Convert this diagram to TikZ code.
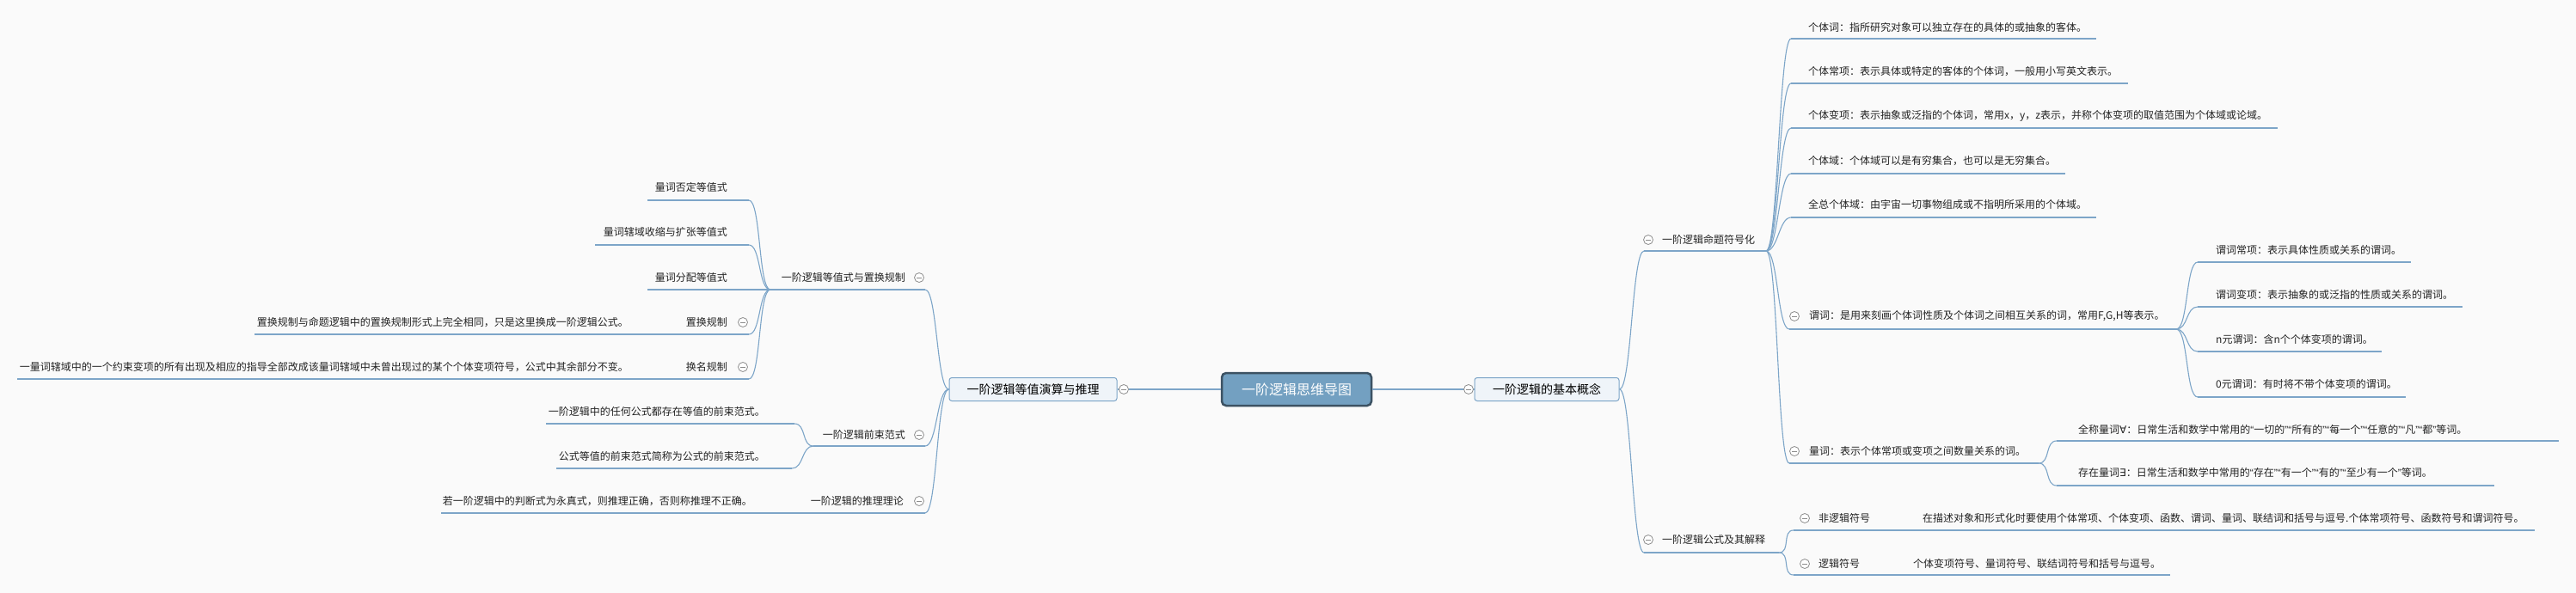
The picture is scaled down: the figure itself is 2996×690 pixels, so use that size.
\documentclass[tikz,border=0pt]{standalone}
\usepackage{fontspec}
\setmainfont{Noto Sans CJK SC}
\newfontfamily\latf{Liberation Sans}
\newfontfamily\symf{DejaVu Sans}
\newcommand\oq{{\latf “}}
\newcommand\cq{{\latf ”}}
\definecolor{bgc}{RGB}{250,250,250}
\definecolor{lnc}{RGB}{125,165,200}
\definecolor{txtc}{RGB}{35,35,35}
\definecolor{foldc}{RGB}{140,140,140}
\definecolor{rootfill}{RGB}{115,160,193}
\definecolor{rootdraw}{RGB}{60,82,99}
\definecolor{lonefill}{RGB}{239,244,249}
\newcommand\lnkR[2]{\draw[conn] (#1) .. controls +(14,0) and +(-14,0) .. (#2);}
\newcommand\lnkL[2]{\draw[conn] (#1) .. controls +(-14,0) and +(14,0) .. (#2);}
% name, ulLeft, textX, ulRight, textY, ulY, text
\newcommand\tR[7]{\node[tw] (#1) at (#3,#5) {#7};\coordinate (#1L) at (#2,#6);\coordinate (#1R) at (#4,#6);\draw[conn] (#1L) -- (#1R);}
\newcommand\tL[7]{\node[te] (#1) at (#3,#5) {#7};\coordinate (#1L) at (#2,#6);\coordinate (#1R) at (#4,#6);\draw[conn] (#1L) -- (#1R);}
\begin{document}
\begin{tikzpicture}[x=1pt,y=-1pt,
  conn/.style={draw=lnc,line width=1.1pt},
  txt/.style={inner sep=0pt,font=\fontsize{12}{14}\selectfont,text=txtc},
  tw/.style={txt,anchor=west},
  te/.style={txt,anchor=east},
  fold/.style={circle,draw=foldc,fill=white,line width=0.8pt,minimum size=11pt,inner sep=0pt,
    path picture={\draw[foldc,line width=0.8pt] ([xshift=-3pt]path picture bounding box.center) -- ([xshift=3pt]path picture bounding box.center);}},
  rootbox/.style={rounded corners=5pt,fill=rootfill,draw=rootdraw,line width=2.5pt,minimum width=174pt,minimum height=38pt,text=white,font=\fontsize{16}{18}\selectfont,inner sep=0pt},
  lone/.style={rounded corners=3pt,fill=lonefill,draw=lnc,line width=1pt,minimum height=27pt,font=\fontsize{14}{16}\selectfont,text=black,inner sep=0pt}
]
\useasboundingbox (0,0) rectangle (2996,690);
\fill[bgc] (0,0) rectangle (2996,690);

% root and level 1
\node[rootbox] (root) at (1508,453) {一阶逻辑思维导图};
\node[lone,minimum width=168pt] (r1) at (1799,453) {一阶逻辑的基本概念};
\node[lone,minimum width=195pt] (l1) at (1201.5,453) {一阶逻辑等值演算与推理};
\coordinate (r1fc) at (1708,453);
\coordinate (l1fc) at (1307,453);
\draw[conn] (root.east) -- (r1fc) -- (r1.west);
\draw[conn] (root.west) -- (l1fc) -- (l1.east);

% ---------- right side ----------
\tR{A}{1912}{1933}{2054}{279}{292}{一阶逻辑命题符号化}
\tR{B}{1912}{1933}{2069}{628}{643}{一阶逻辑公式及其解释}
\lnkR{r1.east}{AL}
\lnkR{r1.east}{BL}

\tR{a1}{2083}{2103}{2438}{32}{45}{个体词：指所研究对象可以独立存在的具体的或抽象的客体。}
\tR{a2}{2083}{2103}{2475}{83}{97}{个体常项：表示具体或特定的客体的个体词，一般用小写英文表示。}
\tR{a3}{2083}{2103}{2649}{135}{149}{个体变项：表示抽象或泛指的个体词，常用x，y，z表示，并称个体变项的取值范围为个体域或论域。}
\tR{a4}{2083}{2103}{2402}{187}{202}{个体域：个体域可以是有穷集合，也可以是无穷集合。}
\tR{a5}{2083}{2103}{2438}{238}{253}{全总个体域：由宇宙一切事物组成或不指明所采用的个体域。}
\tR{a6}{2081}{2104}{2531}{368}{383}{谓词：是用来刻画个体词性质及个体词之间相互关系的词，常用F,G,H等表示。}
\tR{a7}{2081}{2104}{2371}{525}{539}{量词：表示个体常项或变项之间数量关系的词。}
\foreach \n in {a1,a2,a3,a4,a5,a6,a7} {\lnkR{AR}{\n L}}

\tR{p1}{2556}{2577}{2804}{291}{305}{谓词常项：表示具体性质或关系的谓词。}
\tR{p2}{2556}{2577}{2864}{343}{357}{谓词变项：表示抽象的或泛指的性质或关系的谓词。}
\tR{p3}{2556}{2577}{2770}{395}{409}{n元谓词：含n个个体变项的谓词。}
\tR{p4}{2556}{2577}{2798}{447}{462}{0元谓词：有时将不带个体变项的谓词。}
\foreach \n in {p1,p2,p3,p4} {\lnkR{a6R}{\n L}}

\tR{q1}{2392}{2417}{2976}{500}{513}{全称量词{\symf ∀}：日常生活和数学中常用的\oq 一切的\cq\oq 所有的\cq\oq 每一个\cq\oq 任意的\cq\oq 凡\cq\oq 都\cq 等词。}
\tR{q2}{2392}{2417}{2901}{550}{565}{存在量词{\symf ∃}：日常生活和数学中常用的\oq 存在\cq\oq 有一个\cq\oq 有的\cq\oq 至少有一个\cq 等词。}
\lnkR{a7R}{q1L}
\lnkR{a7R}{q2L}

\tR{b1}{2086}{2115}{2200}{603}{617}{非逻辑符号}
\tR{b1c}{2215}{2236}{2948}{603}{617}{在描述对象和形式化时要使用个体常项、个体变项、函数、谓词、量词、联结词和括号与逗号.个体常项符号、函数符号和谓词符号。}
\tR{b2}{2086}{2115}{2190}{656}{669}{逻辑符号}
\tR{b2c}{2205}{2225}{2524}{656}{669}{个体变项符号、量词符号、联结词符号和括号与逗号。}
\lnkR{BR}{b1L}
\lnkR{BR}{b2L}
\draw[conn] (b1R) -- (b1cL);
\draw[conn] (b2R) -- (b2cL);

% ---------- left side ----------
\tL{La}{896}{1053}{1076}{323}{337}{一阶逻辑等值式与置换规制}
\tL{Lb}{946}{1053}{1076}{506}{519}{一阶逻辑前束范式}
\tL{Lc}{925}{1051}{1076}{583}{597}{一阶逻辑的推理理论}
\lnkL{l1.west}{LaR}
\lnkL{l1.west}{LbR}
\lnkL{l1.west}{LcR}

\tL{e1}{753}{846}{871}{218}{233}{量词否定等值式}
\tL{e2}{692}{846}{871}{270}{285}{量词辖域收缩与扩张等值式}
\tL{e3}{753}{846}{871}{323}{337}{量词分配等值式}
\tL{e4}{785}{846}{871}{375}{389}{置换规制}
\tL{e5}{785}{846}{871}{427}{441}{换名规制}
\foreach \n in {e1,e2,e3,e4,e5} {\lnkL{LaL}{\n R}}

\tL{e4c}{296}{731}{760}{375}{389}{置换规制与命题逻辑中的置换规制形式上完全相同，只是这里换成一阶逻辑公式。}
\tL{e5c}{20}{731}{760}{427}{441}{一量词辖域中的一个约束变项的所有出现及相应的指导全部改成该量词辖域中未曾出现过的某个个体变项符号，公式中其余部分不变。}
\draw[conn] (e4L) -- (e4cR);
\draw[conn] (e5L) -- (e5cR);

\tL{f1}{635}{890}{924}{479}{493}{一阶逻辑中的任何公式都存在等值的前束范式。}
\tL{f2}{647}{890}{921}{531}{545}{公式等值的前束范式简称为公式的前束范式。}
\lnkL{LbL}{f1R}
\lnkL{LbL}{f2R}

\tL{g1}{513}{875}{900}{583}{597}{若一阶逻辑中的判断式为永真式，则推理正确，否则称推理不正确。}
\draw[conn] (LcL) -- (g1R);

% fold markers
\node[fold] (r1f) at (r1fc) {};
\node[fold] (l1f) at (l1fc) {};
\node[fold] (Af) at (1917,279) {};
\node[fold] (Bf) at (1917,628) {};
\node[fold] (a6f) at (2087,368) {};
\node[fold] (a7f) at (2087,525) {};
\node[fold] (b1f) at (2099,603) {};
\node[fold] (b2f) at (2099,656) {};
\node[fold] (Laf) at (1069,323) {};
\node[fold] (Lbf) at (1069,506) {};
\node[fold] (Lcf) at (1069,583) {};
\node[fold] (e4f) at (864,375) {};
\node[fold] (e5f) at (864,427) {};
\end{tikzpicture}
\end{document}
